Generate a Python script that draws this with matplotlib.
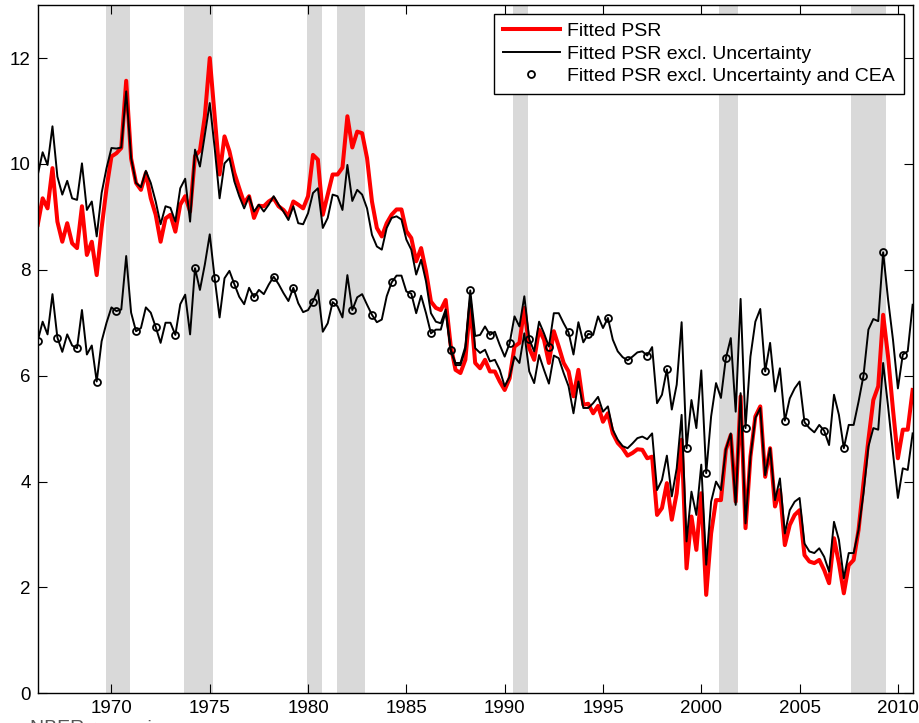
import numpy as np
import matplotlib
matplotlib.use("Agg")
from matplotlib import pyplot as plt

plt.rcParams['font.family'] = ['Liberation Sans', 'DejaVu Sans']

# Quarterly sample, 1966Q2 .. 2010Q4
start_year = 1966.25
n_quarters = 179

# Fitted PSR (red)
fitted_psr = [
    8.85, 9.35, 9.16, 9.92, 8.91, 8.53, 8.88, 8.50, 8.41, 9.20,
    8.28, 8.53, 7.90, 8.79, 9.54, 10.14, 10.20, 10.30, 11.57, 10.10,
    9.64, 9.51, 9.83, 9.35, 9.04, 8.53, 8.97, 9.04, 8.72, 9.23,
    9.39, 9.10, 10.15, 10.25, 10.90, 12.00, 10.90, 9.80, 10.52, 10.24,
    9.83, 9.54, 9.26, 9.39, 8.98, 9.21, 9.20, 9.29, 9.35, 9.20,
    9.13, 9.01, 9.29, 9.23, 9.16, 9.39, 10.17, 10.08, 9.04, 9.42,
    9.80, 9.80, 9.93, 10.90, 10.31, 10.61, 10.58, 10.11, 9.29, 8.79,
    8.63, 8.88, 9.04, 9.14, 9.14, 8.73, 8.60, 8.16, 8.41, 7.97,
    7.40, 7.28, 7.24, 7.43, 6.58, 6.11, 6.05, 6.30, 7.35, 6.24,
    6.14, 6.30, 6.08, 6.08, 5.89, 5.73, 5.95, 6.55, 6.62, 7.28,
    6.52, 6.30, 6.87, 6.68, 6.24, 6.84, 6.55, 6.24, 6.08, 5.61,
    6.11, 5.45, 5.47, 5.29, 5.43, 5.13, 5.29, 4.91, 4.73, 4.63,
    4.49, 4.54, 4.61, 4.60, 4.44, 4.47, 3.37, 3.50, 3.97, 3.28,
    3.78, 4.79, 2.36, 3.34, 2.71, 3.78, 1.86, 3.02, 3.65, 3.65,
    4.60, 4.88, 3.62, 5.61, 3.12, 4.47, 5.23, 5.42, 4.09, 4.63,
    3.53, 3.84, 2.80, 3.18, 3.37, 3.46, 2.61, 2.49, 2.46, 2.52,
    2.33, 2.08, 2.93, 2.46, 1.89, 2.42, 2.52, 3.09, 3.97, 4.79,
    5.54, 5.80, 7.15, 6.36, 5.36, 4.44, 4.98, 4.98, 5.73,
]

# Fitted PSR excl. Uncertainty
excl_unc = [
    9.79, 10.22, 9.98, 10.71, 9.76, 9.42, 9.68, 9.35, 9.32, 10.01,
    9.13, 9.29, 8.63, 9.45, 9.92, 10.30, 10.29, 10.31, 11.37, 10.11,
    9.64, 9.56, 9.87, 9.64, 9.29, 8.86, 9.20, 9.17, 8.91, 9.54,
    9.72, 8.91, 10.27, 9.95, 10.55, 11.15, 10.30, 9.35, 10.01, 10.11,
    9.67, 9.39, 9.16, 9.39, 9.10, 9.23, 9.10, 9.23, 9.39, 9.23,
    9.10, 8.94, 9.20, 8.88, 8.86, 9.07, 9.45, 9.54, 8.79, 8.98,
    9.42, 9.39, 9.13, 9.98, 9.30, 9.51, 9.42, 9.16, 8.66, 8.44,
    8.38, 8.79, 8.98, 9.01, 8.95, 8.57, 8.38, 7.91, 8.19, 7.78,
    7.18, 7.02, 6.99, 7.25, 6.50, 6.20, 6.20, 6.50, 7.50, 6.52,
    6.43, 6.49, 6.27, 6.30, 6.11, 5.80, 5.98, 6.36, 6.24, 6.80,
    6.08, 5.86, 6.39, 6.11, 5.85, 6.38, 6.33, 6.05, 5.80, 5.29,
    5.89, 5.39, 5.39, 5.48, 5.60, 5.32, 5.42, 4.98, 4.79, 4.67,
    4.63, 4.72, 4.82, 4.85, 4.80, 4.91, 3.84, 4.03, 4.49, 3.72,
    4.25, 5.26, 2.87, 3.81, 3.37, 4.32, 2.43, 3.62, 4.00, 3.84,
    4.61, 4.91, 3.56, 5.67, 3.21, 4.47, 5.20, 5.39, 4.12, 4.63,
    3.65, 4.06, 3.02, 3.46, 3.62, 3.69, 2.83, 2.68, 2.65, 2.74,
    2.58, 2.30, 3.24, 2.90, 2.17, 2.65, 2.65, 3.09, 3.78, 4.66,
    5.01, 4.98, 6.24, 5.42, 4.54, 3.69, 4.25, 4.22, 4.91,
]

# Fitted PSR excl. Uncertainty and CEA
excl_unc_cea = [
    6.66, 7.02, 6.78, 7.54, 6.72, 6.45, 6.78, 6.57, 6.52, 7.24,
    6.40, 6.57, 5.89, 6.65, 7.00, 7.29, 7.22, 7.25, 8.26, 7.19,
    6.84, 6.90, 7.29, 7.19, 6.92, 6.62, 7.00, 7.00, 6.77, 7.35,
    7.53, 6.78, 8.03, 7.62, 8.10, 8.67, 7.84, 7.10, 7.84, 7.98,
    7.73, 7.49, 7.35, 7.66, 7.48, 7.62, 7.54, 7.72, 7.87, 7.73,
    7.56, 7.41, 7.66, 7.37, 7.20, 7.24, 7.40, 7.62, 6.83, 6.99,
    7.39, 7.31, 7.10, 7.90, 7.24, 7.48, 7.54, 7.34, 7.15, 7.01,
    7.06, 7.50, 7.76, 7.89, 7.89, 7.59, 7.55, 7.18, 7.51, 7.18,
    6.80, 6.87, 6.87, 7.21, 6.48, 6.24, 6.24, 6.55, 7.61, 6.75,
    6.77, 6.93, 6.77, 6.83, 6.58, 6.36, 6.61, 7.12, 6.93, 7.50,
    6.69, 6.46, 7.02, 6.80, 6.55, 7.18, 7.18, 6.99, 6.82, 6.40,
    7.01, 6.63, 6.79, 6.77, 7.12, 6.90, 7.09, 6.68, 6.46, 6.35,
    6.29, 6.36, 6.44, 6.46, 6.38, 6.54, 5.48, 5.64, 6.12, 5.36,
    5.83, 7.01, 4.63, 5.54, 5.01, 6.10, 4.16, 5.23, 5.86, 5.58,
    6.33, 6.71, 5.32, 7.45, 5.01, 6.36, 7.02, 7.26, 6.08, 6.62,
    5.70, 6.14, 5.15, 5.57, 5.76, 5.89, 5.12, 5.01, 4.93, 5.07,
    4.96, 4.69, 5.64, 5.26, 4.63, 5.07, 5.07, 5.51, 6.00, 6.87,
    7.07, 7.03, 8.33, 7.44, 6.68, 5.76, 6.40, 6.46, 7.34,
]

# Shaded recession periods (start, end) in years
recessions = [
    (1969.72, 1970.94), (1973.69, 1975.18), (1979.94, 1980.69),
    (1981.45, 1982.90), (1990.43, 1991.17), (2000.92, 2001.89),
    (2007.62, 2009.37),
]


def main():
    dates = start_year + np.arange(n_quarters) / 4.0

    fig = plt.figure(figsize=(9.2, 7.23), dpi=100)
    ax = fig.add_axes([0.041, 0.041, 0.951, 0.952])

    for r0, r1 in recessions:
        ax.axvspan(r0, r1, color='#d9d9d9', lw=0, zorder=0)

    ax.plot(dates, fitted_psr, color='red', lw=2.9, label='Fitted PSR', zorder=2)
    ax.plot(dates, excl_unc, color='black', lw=1.4,
            label='Fitted PSR excl. Uncertainty', zorder=3)
    ax.plot(dates, excl_unc_cea, color='black', lw=1.4, zorder=3)
    # markers once a year on the last series
    ax.plot(dates[::4], np.array(excl_unc_cea)[::4], 'o', ls='none',
            mfc='none', mec='black', mew=1.3, ms=5,
            label='Fitted PSR excl. Uncertainty and CEA', zorder=4)

    ax.set_xlim(1966.25, 2010.75)
    ax.set_ylim(0, 13)
    ax.set_xticks(range(1970, 2011, 5))
    ax.set_yticks(range(0, 13, 2))
    ax.tick_params(direction='in', length=6.5, width=0.8, labelsize=13.5,
                   top=True, right=True, pad=5)
    for s in ax.spines.values():
        s.set_linewidth(1.0)

    leg = ax.legend(loc='upper right', fontsize=14, frameon=True, fancybox=False,
                    edgecolor='black', framealpha=1, borderaxespad=0.45,
                    labelspacing=0.25, handlelength=2.9, handletextpad=0.4,
                    borderpad=0.45)
    leg.get_frame().set_linewidth(1.0)

    fig.text(30 / 920, 3 / 723, 'NBER recessions', fontsize=14, color='#555555',
             va='top', ha='left')

    fig.savefig('out.png', dpi=100)


if __name__ == "__main__":
    main()
